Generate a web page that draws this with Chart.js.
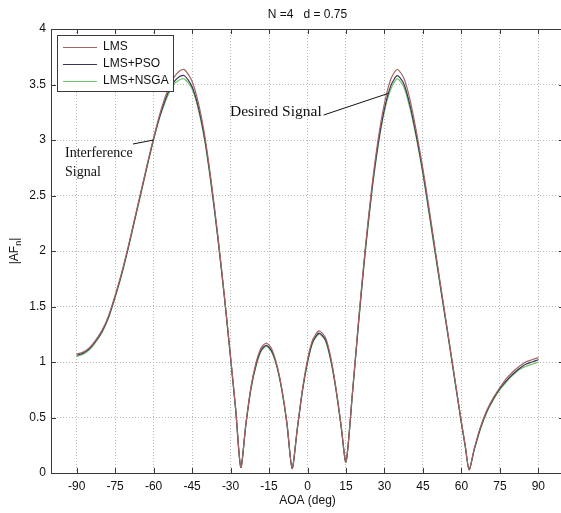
<!DOCTYPE html>
<html>
<head>
<meta charset="utf-8">
<script src="https://cdn.jsdelivr.net/npm/chart.js@4/dist/chart.umd.min.js"></script>
<style>
  html, body { margin: 0; padding: 0; background: #fff; overflow: hidden; }
  canvas { display: block; }
</style>
</head>
<body>
<canvas id="af" width="566" height="513"></canvas>
<script>
// AOA samples (deg) and |AF_n|
const angles = [-90,-87.5,-85,-82.5,-80,-77.5,-75,-72.5,-70,-67.5,-65,-62.5,-60,-57.5,-55,-52.5,-50,-48,-45,-42.5,-40,-37.5,-35,-32.5,-30,-28,-26,-24,-22,-20,-18,-16,-14,-12,-10,-8,-6,-4,-2,0,2,4.5,7,9,11,13,15,17.5,20,22.5,25,27.5,30,32.5,35,37.5,40,42.5,45,47.5,50,52.5,55,57.5,60,61.5,63,65,67.5,70,72.5,75,77.5,80,82.5,85,87.5,90];

const lms  = [1.07,1.09,1.13,1.20,1.29,1.42,1.60,1.80,2.03,2.28,2.53,2.78,3.02,3.24,3.42,3.55,3.62,3.635,3.53,3.33,3.03,2.62,2.15,1.62,1.05,0.58,0.05,0.45,0.78,1.00,1.13,1.17,1.12,0.98,0.76,0.45,0.04,0.40,0.75,1.02,1.20,1.28,1.22,1.05,0.78,0.45,0.10,0.72,1.40,2.02,2.56,3.00,3.33,3.55,3.635,3.56,3.36,3.07,2.74,2.37,1.98,1.60,1.22,0.84,0.46,0.25,0.03,0.22,0.42,0.57,0.68,0.77,0.85,0.91,0.96,1.00,1.02,1.04];
const pso  = [1.06,1.08,1.12,1.19,1.28,1.41,1.59,1.79,2.02,2.27,2.52,2.77,3.01,3.22,3.39,3.51,3.57,3.58,3.48,3.29,3.00,2.60,2.13,1.61,1.04,0.57,0.05,0.44,0.77,0.98,1.11,1.15,1.10,0.97,0.75,0.44,0.04,0.39,0.74,1.00,1.18,1.26,1.20,1.03,0.77,0.44,0.10,0.71,1.38,2.00,2.53,2.96,3.28,3.49,3.58,3.51,3.31,3.03,2.71,2.34,1.96,1.58,1.21,0.83,0.45,0.24,0.03,0.21,0.41,0.56,0.67,0.76,0.83,0.89,0.94,0.98,1.00,1.02];
const nsga = [1.05,1.07,1.11,1.18,1.27,1.40,1.58,1.78,2.01,2.26,2.51,2.76,3.00,3.21,3.37,3.49,3.54,3.55,3.46,3.27,2.98,2.58,2.12,1.60,1.03,0.57,0.05,0.44,0.76,0.97,1.10,1.14,1.09,0.96,0.74,0.44,0.04,0.39,0.73,0.99,1.17,1.25,1.19,1.02,0.76,0.44,0.10,0.71,1.37,1.98,2.51,2.94,3.26,3.46,3.55,3.48,3.28,3.01,2.69,2.32,1.94,1.57,1.20,0.82,0.45,0.24,0.03,0.21,0.40,0.55,0.66,0.75,0.82,0.88,0.93,0.96,0.98,1.00];

const seriesNames = ["LMS", "LMS+PSO", "LMS+NSGA"];
const seriesColors = ["#a46464", "#3d3456", "#6cc46c"];
const xTicks = [-90,-75,-60,-45,-30,-15,0,15,30,45,60,75,90];
const yTicks = [0,0.5,1,1.5,2,2.5,3,3.5,4];

const FONT = "'Liberation Sans', Arial, sans-serif";
const SERIF = "'Liberation Serif', 'Times New Roman', serif";

function pts(vals) {
  return angles.map((a, i) => ({ x: a, y: vals[i] }));
}

const decor = {
  id: "decor",
  afterDraw(chart) {
    const { ctx, chartArea: ca, scales } = chart;
    const xs = scales.x, ys = scales.y;
    ctx.save();

    // axes box
    ctx.strokeStyle = "#3a3a3a";
    ctx.lineWidth = 1;
    ctx.strokeRect(Math.round(ca.left) + 0.5, Math.round(ca.top) + 0.5,
      Math.round(ca.right - ca.left), Math.round(ca.bottom - ca.top));

    // inward tick marks
    ctx.beginPath();
    xTicks.forEach(v => {
      const px = Math.round(xs.getPixelForValue(v)) + 0.5;
      ctx.moveTo(px, ca.bottom); ctx.lineTo(px, ca.bottom - 5);
      ctx.moveTo(px, ca.top); ctx.lineTo(px, ca.top + 5);
    });
    yTicks.forEach(v => {
      const py = Math.round(ys.getPixelForValue(v)) + 0.5;
      ctx.moveTo(ca.left, py); ctx.lineTo(ca.left + 5, py);
      ctx.moveTo(ca.right, py); ctx.lineTo(ca.right - 5, py);
    });
    ctx.stroke();

    // title
    ctx.fillStyle = "#111";
    ctx.font = "12px " + FONT;
    ctx.textAlign = "center";
    ctx.textBaseline = "middle";
    ctx.fillText("N =4   d = 0.75", (ca.left + ca.right) / 2, 15);

    // x label
    ctx.fillText("AOA (deg)", (ca.left + ca.right) / 2, 501);

    // y label |AF_n|
    ctx.save();
    ctx.translate(15, (ca.top + ca.bottom) / 2);
    ctx.rotate(-Math.PI / 2);
    ctx.textAlign = "left";
    const w1 = ctx.measureText("|AF").width;
    ctx.font = "9px " + FONT;
    const w2 = ctx.measureText("n").width;
    ctx.font = "12px " + FONT;
    const w3 = ctx.measureText("|").width;
    let x0 = -(w1 + w2 + w3) / 2;
    ctx.fillText("|AF", x0, 0);
    ctx.font = "9px " + FONT;
    ctx.fillText("n", x0 + w1, 4);
    ctx.font = "12px " + FONT;
    ctx.fillText("|", x0 + w1 + w2, 0);
    ctx.restore();

    // legend
    const lx = 57, ly = 35, lw = 116, lh = 56;
    ctx.fillStyle = "#fff";
    ctx.fillRect(lx, ly, lw, lh);
    ctx.strokeStyle = "#3a3a3a";
    ctx.strokeRect(lx + 0.5, ly + 0.5, lw, lh);
    ctx.textAlign = "left";
    ctx.font = "12px " + FONT;
    chart.data.datasets.forEach((ds, i) => {
      const yy = ly + 12 + i * 17;
      ctx.strokeStyle = ds.borderColor;
      ctx.beginPath();
      ctx.moveTo(lx + 6, yy + 0.5); ctx.lineTo(lx + 40, yy + 0.5);
      ctx.stroke();
      ctx.fillStyle = "#111";
      ctx.fillText(ds.label, lx + 46, yy);
    });

    // annotations (arrows end on the curves, in data coordinates)
    ctx.fillStyle = "#111";
    ctx.strokeStyle = "#111";
    ctx.font = "14px " + SERIF;
    const ix = xs.getPixelForValue(-60), iy = ys.getPixelForValue(3.0);
    ctx.fillText("Interference", 65, 153);
    ctx.fillText("Signal", 65, 172);
    ctx.beginPath();
    ctx.moveTo(133, 144); ctx.lineTo(ix, iy);
    ctx.stroke();

    ctx.font = "15.5px " + SERIF;
    const dx = xs.getPixelForValue(31.5), dy = ys.getPixelForValue(3.42);
    ctx.fillText("Desired Signal", 230, 112);
    const tw = ctx.measureText("Desired Signal").width;
    ctx.beginPath();
    ctx.moveTo(230 + tw + 2, 115); ctx.lineTo(dx, dy);
    ctx.stroke();

    ctx.restore();
  }
};

new Chart(document.getElementById("af"), {
  type: "line",
  data: {
    datasets: [lms, pso, nsga].map((vals, i) => ({
      label: seriesNames[i],
      data: pts(vals),
      borderColor: seriesColors[i],
      borderWidth: 1.2,
      pointRadius: 0,
      tension: 0.25,
      fill: false
    }))
  },
  options: {
    responsive: false,
    animation: false,
    devicePixelRatio: 1,
    layout: { padding: { top: 29, right: 2, left: 0, bottom: 0 } },
    plugins: { legend: { display: false }, title: { display: false }, tooltip: { enabled: false } },
    scales: {
      x: {
        type: "linear",
        min: -100,
        max: 100,
        afterBuildTicks: s => { s.ticks = xTicks.map(v => ({ value: v })); },
        afterFit: s => { s.height = 40; },
        grid: { color: "#b8b8b8", lineWidth: 1, drawTicks: false },
        border: { display: false, dash: [1, 2] },
        ticks: { color: "#111", font: { family: FONT, size: 12 }, padding: 6, maxRotation: 0, autoSkip: false }
      },
      y: {
        min: 0,
        max: 4,
        afterBuildTicks: s => { s.ticks = yTicks.map(v => ({ value: v })); },
        afterFit: s => { s.width = 51; },
        grid: { color: "#b8b8b8", lineWidth: 1, drawTicks: false },
        border: { display: false, dash: [1, 2] },
        ticks: { color: "#111", font: { family: FONT, size: 12 }, padding: 5, callback: v => String(v) }
      }
    }
  },
  plugins: [decor]
});
</script>
</body>
</html>
